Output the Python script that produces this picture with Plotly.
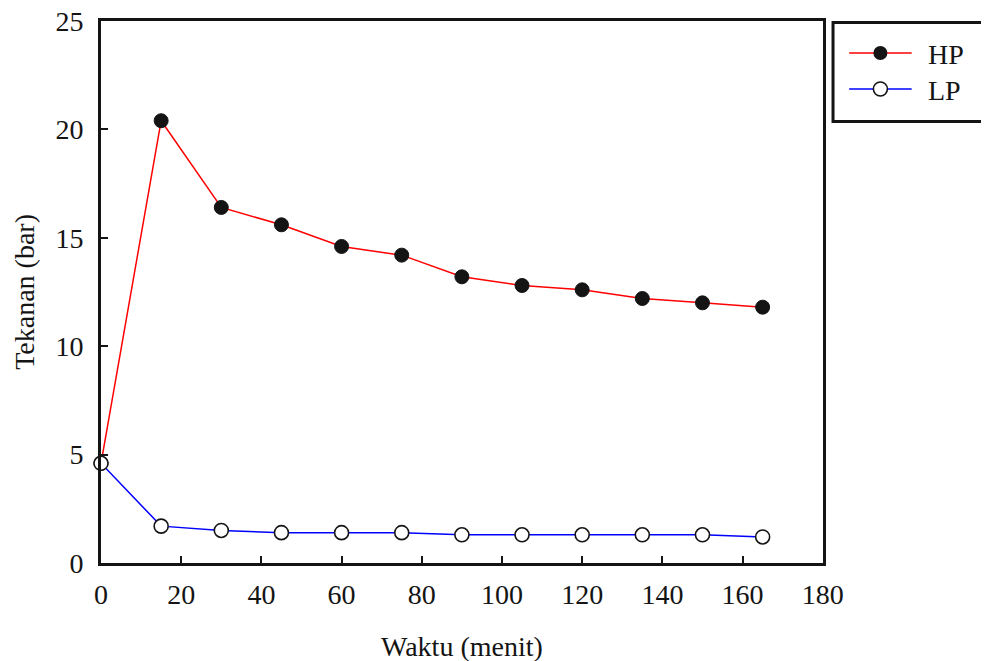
import plotly.graph_objects as go

# ---- data ----
waktu = [0, 15, 30, 45, 60, 75, 90, 105, 120, 135, 150, 165]
hp = [4.6, 20.4, 16.4, 15.6, 14.6, 14.2, 13.2, 12.8, 12.6, 12.2, 12.0, 11.8]
lp = [4.6, 1.7, 1.5, 1.4, 1.4, 1.4, 1.3, 1.3, 1.3, 1.3, 1.3, 1.2]
x_ticks = [0, 20, 40, 60, 80, 100, 120, 140, 160, 180]
y_ticks = [0, 5, 10, 15, 20, 25]
series_names = ["HP", "LP"]

FONT = "Liberation Serif, Times New Roman, serif"
FS = 28
TXT = "#141414"
W, H = 1002, 661
ML, MR, MT, MB = 101, 0, 21, 98
PW = W - ML - MR
PH = H - MT - MB
PLOT_RIGHT = 840


def px_x(px):
    return (px - ML) / PW


def px_y(py):
    return 1 - (py - MT) / PH


fig = go.Figure()

fig.add_trace(go.Scatter(
    x=waktu, y=hp, mode="lines+markers", name=series_names[0],
    line=dict(color="#ff0000", width=1.5),
    marker=dict(symbol="circle", size=14, color=TXT, line=dict(color=TXT, width=1)),
    cliponaxis=False, showlegend=False,
))
fig.add_trace(go.Scatter(
    x=waktu, y=lp, mode="lines+markers", name=series_names[1],
    line=dict(color="#0000ff", width=1.5),
    marker=dict(symbol="circle", size=14, color="white", line=dict(color=TXT, width=1.6)),
    cliponaxis=False, showlegend=False,
))

# ---- manual legend on an overlay axis (pixel units) ----
leg_left, leg_top, leg_bottom = 849, 21, 123
leg_rows = [53, 89]
fig.add_trace(go.Scatter(x=[867, 931], y=[leg_rows[0]] * 2, mode="lines",
                         line=dict(color="#ff0000", width=1.5),
                         xaxis="x2", yaxis="y2", showlegend=False, hoverinfo="skip"))
fig.add_trace(go.Scatter(x=[899], y=[leg_rows[0]], mode="markers",
                         marker=dict(size=14, color=TXT),
                         xaxis="x2", yaxis="y2", showlegend=False, hoverinfo="skip"))
fig.add_trace(go.Scatter(x=[867, 931], y=[leg_rows[1]] * 2, mode="lines",
                         line=dict(color="#0000ff", width=1.5),
                         xaxis="x2", yaxis="y2", showlegend=False, hoverinfo="skip"))
fig.add_trace(go.Scatter(x=[899], y=[leg_rows[1]], mode="markers",
                         marker=dict(size=14, color="white", line=dict(color=TXT, width=1.6)),
                         xaxis="x2", yaxis="y2", showlegend=False, hoverinfo="skip"))

annotations = []
for name, row in zip(series_names, leg_rows):
    annotations.append(dict(x=946, y=row + 1, xref="x2", yref="y2", text=name,
                            showarrow=False, xanchor="left", yanchor="middle",
                            font=dict(family=FONT, size=FS, color=TXT)))

annotations.append(dict(x=px_x((ML + PLOT_RIGHT) / 2), y=px_y(663), xref="paper", yref="paper",
                        text="Waktu (menit)", showarrow=False,
                        xanchor="center", yanchor="bottom", borderpad=0,
                        font=dict(family=FONT, size=FS, color=TXT)))
annotations.append(dict(x=px_x(22), y=0.5, xref="paper", yref="paper",
                        text="Tekanan (bar)", showarrow=False, textangle=-90,
                        xanchor="center", yanchor="middle",
                        font=dict(family=FONT, size=FS, color=TXT)))

# legend frame: open on the right (cut by the page edge)
lx0 = px_x(leg_left + 1.5)
lx1 = 1.0
ly0 = px_y(leg_bottom - 1.5)
ly1 = px_y(leg_top + 1.5)
shapes = [dict(type="path", xref="paper", yref="paper",
               path=f"M {lx1},{ly1} L {lx0},{ly1} L {lx0},{ly0} L {lx1},{ly0}",
               line=dict(color=TXT, width=3), layer="below")]

axis_common = dict(showline=True, linecolor=TXT, linewidth=3, mirror=True,
                   ticks="inside", ticklen=7, tickwidth=1.5, tickcolor=TXT,
                   showgrid=False, zeroline=False,
                   tickfont=dict(family=FONT, size=FS, color=TXT))

fig.update_layout(
    width=W, height=H, autosize=False,
    margin=dict(l=ML, r=MR, t=MT, b=MB, pad=0),
    paper_bgcolor="white", plot_bgcolor="white",
    xaxis=dict(range=[0, 180], tickvals=x_ticks, domain=[0, px_x(PLOT_RIGHT)],
               ticklabelstandoff=4, **axis_common),
    yaxis=dict(range=[0, 25], tickvals=y_ticks, ticklabelstandoff=9, **axis_common),
    xaxis2=dict(domain=[px_x(leg_left), 1], range=[leg_left, W], visible=False,
                anchor="y2", fixedrange=True),
    yaxis2=dict(domain=[px_y(leg_bottom), 1], range=[leg_bottom, leg_top], visible=False,
                anchor="x2", fixedrange=True),
    annotations=annotations,
    shapes=shapes,
    showlegend=False,
)

fig.write_html("out.html", config={"responsive": False, "displayModeBar": False})
